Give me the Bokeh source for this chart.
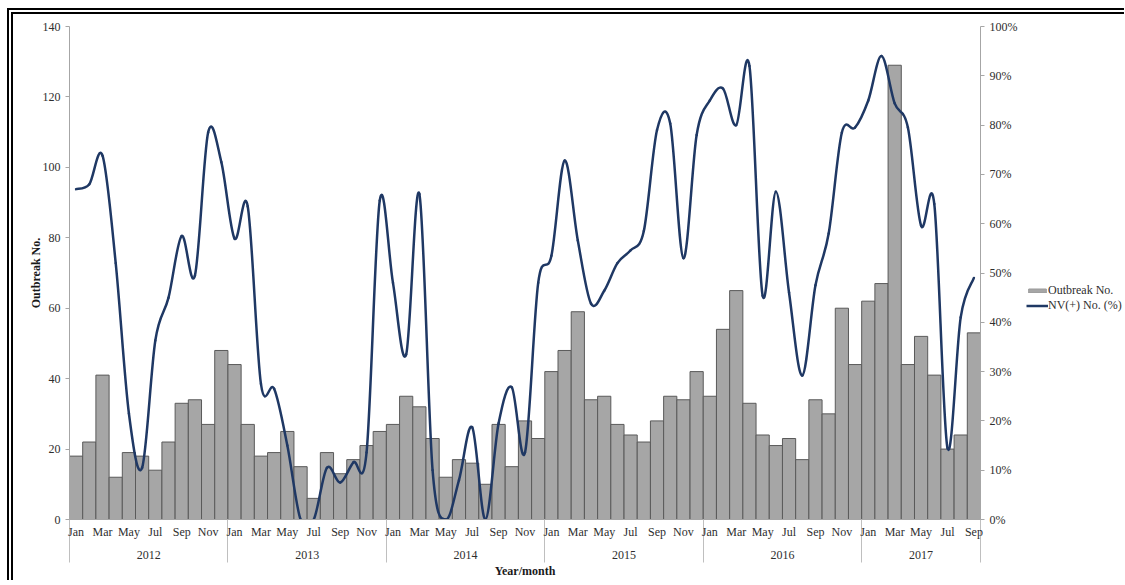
import numpy as np
from bokeh.plotting import figure
from bokeh.layouts import row
from bokeh.models import (Range1d, LinearAxis, FixedTicker, Legend, LegendItem,
                          CustomJSTickFormatter)
from bokeh.embed import file_html
from bokeh.resources import INLINE

years = ["2012", "2013", "2014", "2015", "2016", "2017"]
month_names = ["Jan", "Feb", "Mar", "Apr", "May", "Jun",
               "Jul", "Aug", "Sep", "Oct", "Nov", "Dec"]

# Outbreak No. per month, Jan 2012 .. Sep 2017
outbreaks_2012 = [18, 22, 41, 12, 19, 18, 14, 22, 33, 34, 27, 48]
outbreaks_2013 = [44, 27, 18, 19, 25, 15, 6, 19, 13, 17, 21, 25]
outbreaks_2014 = [27, 35, 32, 23, 12, 17, 16, 10, 27, 15, 28, 23]
outbreaks_2015 = [42, 48, 59, 34, 35, 27, 24, 22, 28, 35, 34, 42]
outbreaks_2016 = [35, 54, 65, 33, 24, 21, 23, 17, 34, 30, 60, 44]
outbreaks_2017 = [62, 67, 129, 44, 52, 41, 20, 24, 53]

# NV(+) No. (%) per month
nv_2012 = [67, 68, 73.8, 52, 21.5, 10.5, 36.3, 45, 57.5, 49.5, 78.5, 72.5]
nv_2013 = [57, 63.5, 27.5, 26.5, 15, 0, 0, 10.5, 7.5, 11.6, 13.6, 64.7]
nv_2014 = [48, 33.5, 66, 10, 0, 8, 18.7, 0, 19.5, 26.8, 13.6, 48]
nv_2015 = [53.5, 72.8, 56.6, 43.8, 46.4, 52, 54.6, 58.5, 79, 80.3, 53, 78]
nv_2016 = [85, 87.4, 80, 92, 45.4, 66.5, 46, 29.2, 47.5, 58, 78.5, 79.5]
nv_2017 = [85, 94, 84.4, 79.5, 59.6, 64, 14.5, 41, 49]

outbreaks = (outbreaks_2012 + outbreaks_2013 + outbreaks_2014 +
             outbreaks_2015 + outbreaks_2016 + outbreaks_2017)
nv_pct = nv_2012 + nv_2013 + nv_2014 + nv_2015 + nv_2016 + nv_2017

n = len(outbreaks)
x = np.arange(n) + 0.5
month_labels = [month_names[i % 12] for i in range(n)]

SERIF = "Liberation Serif"
TXT = "#2E2E2E"
AXC = "#A6A6A6"
BAR_FILL = "#A6A6A6"
BAR_LINE = "#5A5A5A"
NV_COLOR = "#1F3864"
BORDER = "6px double #000000"

p = figure(width=1013, height=572, output_backend="svg", toolbar_location=None,
           x_range=Range1d(0, n), y_range=Range1d(0, 140),
           min_border_left=56, min_border_right=46, min_border_top=12,
           min_border_bottom=67)
p.styles = {"border-top": BORDER, "border-left": BORDER,
            "margin-top": "8px", "margin-left": "7px"}
p.extra_y_ranges = {"pct": Range1d(0, 100)}
p.grid.visible = False
p.outline_line_color = None
p.background_fill_color = "white"
p.border_fill_color = "white"

bars = p.vbar(x=x, top=outbreaks, width=1.0, fill_color=BAR_FILL,
              line_color=BAR_LINE, line_width=1)

# smoothed line (Bezier segments through the monthly points)
xs = list(x)
ys = list(nv_pct)
x0, y0, x1, y1, cx0, cy0, cx1, cy1 = [], [], [], [], [], [], [], []
for i in range(n - 1):
    xp, yp = (xs[i - 1], ys[i - 1]) if i > 0 else (xs[i], ys[i])
    xn, yn = (xs[i + 2], ys[i + 2]) if i + 2 < n else (xs[i + 1], ys[i + 1])
    x0.append(xs[i]); y0.append(ys[i])
    x1.append(xs[i + 1]); y1.append(ys[i + 1])
    cx0.append(xs[i] + (xs[i + 1] - xp) / 6); cy0.append(ys[i] + (ys[i + 1] - yp) / 6)
    cx1.append(xs[i + 1] - (xn - xs[i]) / 6); cy1.append(ys[i + 1] - (yn - ys[i]) / 6)
p.bezier(x0=x0, y0=y0, x1=x1, y1=y1, cx0=cx0, cy0=cy0, cx1=cx1, cy1=cy1,
         y_range_name="pct", line_color=NV_COLOR, line_width=2.5, line_cap="round")

# month axis (bottom, first row); year separators as long minor ticks
xa = p.xaxis[0]
year_bounds = [12 * k for k in range(len(years))] + [n]
xa.ticker = FixedTicker(ticks=[v for i, v in enumerate(x) if i % 2 == 0],
                        minor_ticks=year_bounds)
xa.formatter = CustomJSTickFormatter(args=dict(m=month_labels),
                                     code="return m[Math.floor(tick)] || '';")
xa.major_tick_out = 0
xa.major_tick_in = 0
xa.minor_tick_in = 0
xa.minor_tick_out = 43
xa.minor_tick_line_color = "#BFBFBF"
xa.axis_line_color = AXC
xa.major_label_standoff = 5 - 43
xa.major_label_text_font = SERIF
xa.major_label_text_font_size = "12px"
xa.major_label_text_color = TXT

# year axis (second row)
year_centers = [(year_bounds[k] + year_bounds[k + 1]) / 2 for k in range(len(years))]
ya2 = LinearAxis(ticker=FixedTicker(ticks=year_centers, minor_ticks=[]),
                 formatter=CustomJSTickFormatter(args=dict(c=year_centers, y=years),
                                                 code="for (let i=0;i<c.length;i++){if(Math.abs(c[i]-tick)<1e-6) return y[i];} return '';"),
                 axis_line_color=None, major_tick_line_color=None,
                 minor_tick_line_color=None, major_label_standoff=3,
                 major_label_text_font=SERIF, major_label_text_font_size="12px",
                 major_label_text_color=TXT,
                 axis_label="Year/month", axis_label_standoff=2,
                 axis_label_text_font=SERIF, axis_label_text_font_size="12px",
                 axis_label_text_font_style="bold", axis_label_text_color="#1A1A1A")
p.add_layout(ya2, "below")

# left axis
la = p.yaxis[0]
la.ticker = FixedTicker(ticks=list(range(0, 141, 20)), minor_ticks=[])
la.major_tick_out = 4
la.major_tick_in = 0
la.major_tick_line_color = AXC
la.axis_line_color = AXC
la.major_label_standoff = 5
la.major_label_text_font = SERIF
la.major_label_text_font_size = "12px"
la.major_label_text_color = TXT
la.axis_label = "Outbreak No."
la.axis_label_standoff = -3
la.axis_label_text_font = SERIF
la.axis_label_text_font_size = "12px"
la.axis_label_text_font_style = "bold"
la.axis_label_text_color = "#1A1A1A"

# right axis
ra = LinearAxis(y_range_name="pct",
                ticker=FixedTicker(ticks=list(range(0, 101, 10)), minor_ticks=[]),
                formatter=CustomJSTickFormatter(code="return tick.toFixed(0) + '%';"),
                major_tick_out=4, major_tick_in=0, major_tick_line_color=AXC,
                axis_line_color=AXC, major_label_standoff=5,
                major_label_text_font=SERIF, major_label_text_font_size="12px",
                major_label_text_color=TXT)
p.add_layout(ra, "right")

# legend panel beside the chart: the same two series, drawn outside this
# panel's visible range so only their legend glyphs show
pl = figure(width=104, height=572, output_backend="svg", toolbar_location=None,
            x_axis_location=None, y_axis_location=None, min_border=0,
            x_range=Range1d(-2, -1), y_range=Range1d(0, 1))
pl.extra_y_ranges = {"pct": Range1d(0, 1)}
pl.styles = {"border-top": BORDER, "margin-top": "8px"}
pl.grid.visible = False
pl.outline_line_color = None
pl.background_fill_color = "white"
pl.border_fill_color = "white"
leg_bar = pl.vbar(x=x, top=outbreaks, width=1.0, fill_color=BAR_FILL,
                  line_color="#999999", line_width=1)
leg_line = pl.line(x=x, y=nv_pct, y_range_name="pct",
                   line_color=NV_COLOR, line_width=2.5)

legend = Legend(items=[LegendItem(label="Outbreak No.", renderers=[leg_bar]),
                       LegendItem(label="NV(+) No. (%)", renderers=[leg_line])],
                location=(6, 206), orientation="vertical",
                glyph_width=22, glyph_height=5, label_height=13, label_standoff=0,
                spacing=0, padding=0, margin=0,
                border_line_color=None, background_fill_alpha=0,
                label_text_font=SERIF, label_text_font_size="12px",
                label_text_color=TXT)
pl.add_layout(legend, "center")

layout = row(p, pl, spacing=0)
open("out.html", "w").write(file_html(layout, INLINE))
